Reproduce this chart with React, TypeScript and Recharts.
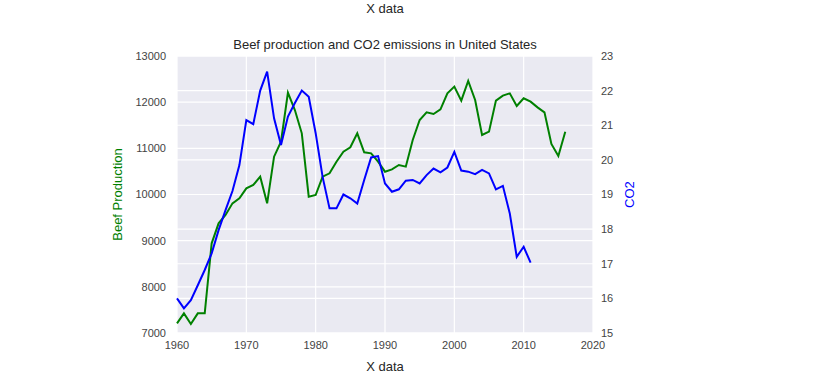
import { LineChart, Line, XAxis, YAxis, CartesianGrid } from 'recharts';

const years = [
  1960, 1961, 1962, 1963, 1964, 1965, 1966, 1967, 1968, 1969,
  1970, 1971, 1972, 1973, 1974, 1975, 1976, 1977, 1978, 1979,
  1980, 1981, 1982, 1983, 1984, 1985, 1986, 1987, 1988, 1989,
  1990, 1991, 1992, 1993, 1994, 1995, 1996, 1997, 1998, 1999,
  2000, 2001, 2002, 2003, 2004, 2005, 2006, 2007, 2008, 2009,
  2010, 2011, 2012, 2013, 2014, 2015, 2016,
];

const beefProduction = [
  7210, 7426, 7195, 7426, 7426, 8943, 9376, 9556, 9809, 9917,
  10134, 10206, 10386, 9809, 10819, 11144, 12206, 11830, 11325, 9953,
  9989, 10386, 10459, 10711, 10928, 11022, 11325, 10913, 10891, 10711,
  10494, 10545, 10639, 10603, 11181, 11614, 11780, 11744, 11845, 12191,
  12336, 12033, 12459, 12047, 11289, 11361, 12033, 12141, 12191, 11917,
  12083, 12011, 11888, 11780, 11094, 10834, 11361,
];

const co2Emissions = [
  16.0, 15.71, 15.95, 16.38, 16.82, 17.3, 17.97, 18.55, 19.1, 19.85,
  21.15, 21.03, 22.0, 22.55, 21.2, 20.43, 21.25, 21.64, 22.0, 21.82,
  20.77, 19.51, 18.6, 18.6, 19.0, 18.89, 18.74, 19.42, 20.07, 20.11,
  19.32, 19.08, 19.15, 19.4, 19.42, 19.32, 19.56, 19.75, 19.64, 19.78,
  20.23, 19.69, 19.66, 19.59, 19.71, 19.61, 19.15, 19.25, 18.45, 17.2,
  17.49, 17.03,
];

const xTicks = [1960, 1970, 1980, 1990, 2000, 2010, 2020];
const beefTicks = [7000, 8000, 9000, 10000, 11000, 12000, 13000];
const co2Ticks = [15, 16, 17, 18, 19, 20, 21, 22, 23];

const data = years.map((year, i) => ({
  year,
  beef: beefProduction[i],
  co2: co2Emissions[i],
}));

const FONT = '"Liberation Sans", Arial, sans-serif';
const tickStyle = { fontSize: 11, fill: '#444', stroke: 'none', fontFamily: FONT };

const App = () => {
  return (
    <div style={{ position: 'absolute', left: 0, top: 0, width: 827, height: 387, background: '#fff', fontFamily: FONT }}>
      <div style={{ position: 'absolute', left: 0, width: 770, top: 1, textAlign: 'center', fontSize: 13, color: '#262626' }}>
        X data
      </div>
      <div style={{ position: 'absolute', left: 177, width: 416, top: 37, textAlign: 'center', fontSize: 13, color: '#262626' }}>
        Beef production and CO2 emissions in United States
      </div>
      <LineChart
        width={827}
        height={387}
        data={data}
        margin={{ top: 56, right: 194, bottom: 14, left: 117 }}
      >
        <CartesianGrid yAxisId="left" fill="#EAEAF2" stroke="#fff" strokeWidth={1.2} horizontal vertical />
        <CartesianGrid yAxisId="right" stroke="#fff" strokeWidth={1.2} horizontal vertical={false} />
        <XAxis
          dataKey="year"
          type="number"
          domain={[1960, 2020]}
          ticks={xTicks}
          tickLine={false}
          axisLine={false}
          tick={tickStyle}
          height={40}
          label={{ value: 'X data', position: 'insideBottom', offset: 2, fontSize: 13, fill: '#262626', fontFamily: FONT }}
        />
        <YAxis
          yAxisId="left"
          domain={[7000, 13000]}
          ticks={beefTicks}
          tickLine={false}
          axisLine={false}
          tick={tickStyle}
          tickMargin={5}
          width={60}
          label={{ value: 'Beef Production', angle: -90, position: 'insideLeft', offset: 0, fontSize: 13, fill: 'green', fontFamily: FONT, style: { textAnchor: 'middle' } }}
        />
        <YAxis
          yAxisId="right"
          orientation="right"
          domain={[15, 23]}
          ticks={co2Ticks}
          tickLine={false}
          axisLine={false}
          tick={tickStyle}
          width={40}
          label={{ value: 'CO2', angle: -90, position: 'insideRight', offset: 4, fontSize: 13, fill: 'blue', fontFamily: FONT, style: { textAnchor: 'middle' } }}
        />
        <Line yAxisId="left" dataKey="beef" stroke="green" strokeWidth={2} dot={false} isAnimationActive={false} />
        <Line yAxisId="right" dataKey="co2" stroke="blue" strokeWidth={2} dot={false} isAnimationActive={false} />
      </LineChart>
    </div>
  );
};

export default App;
